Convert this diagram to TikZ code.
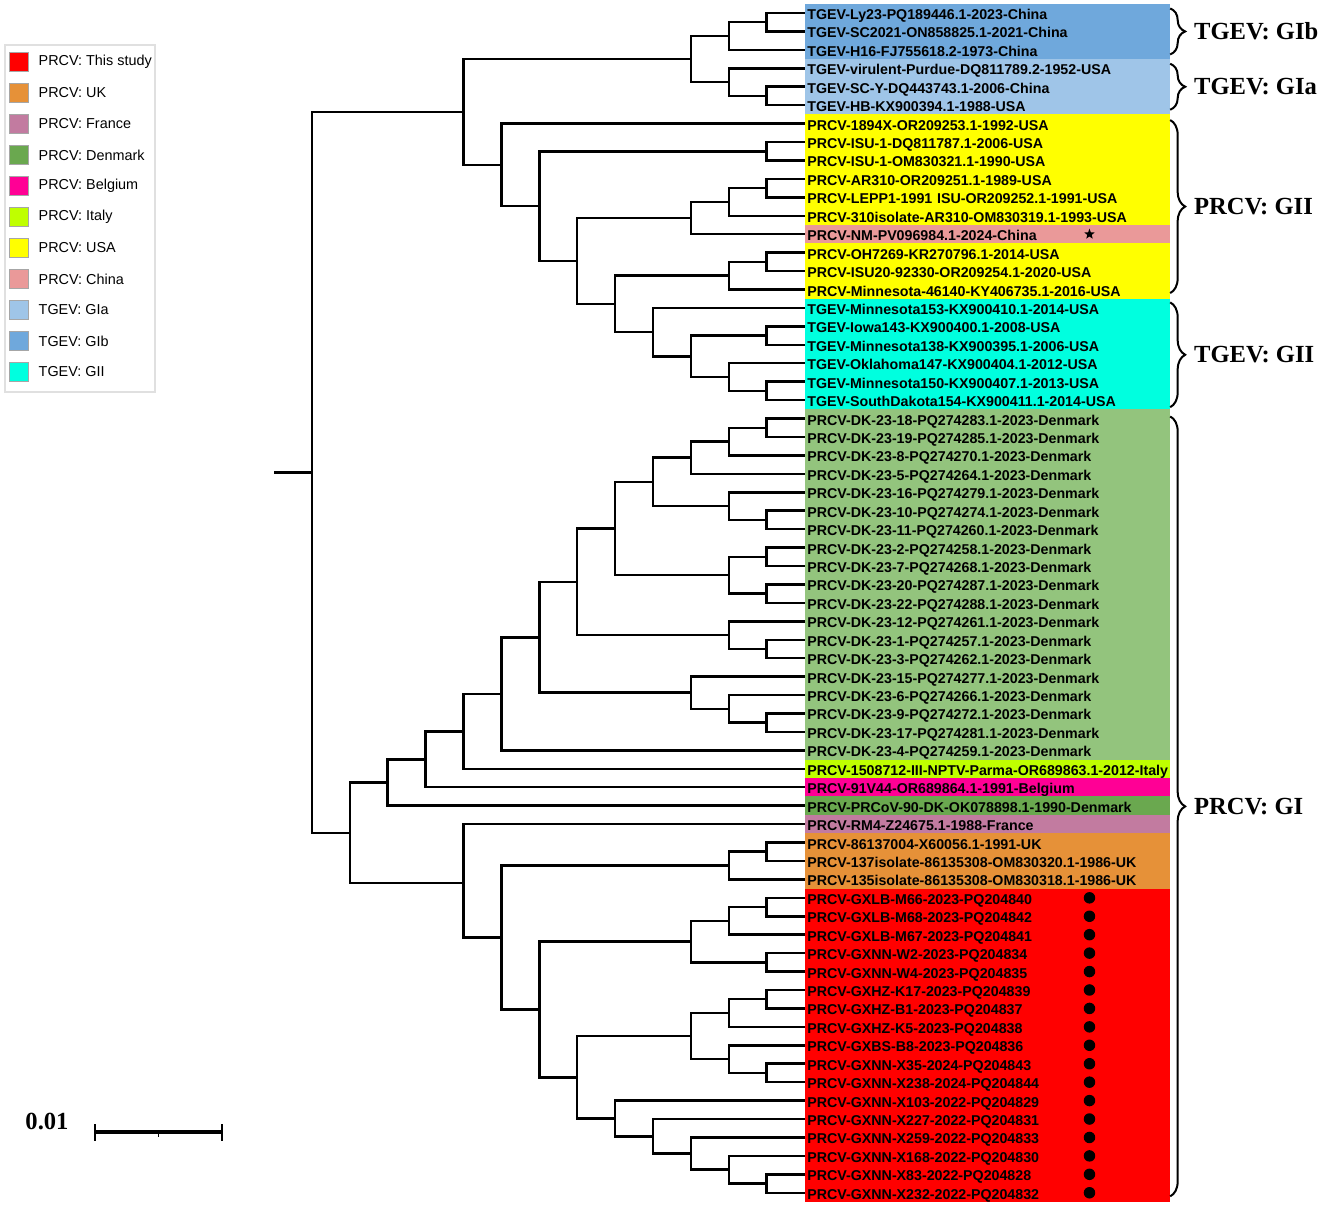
\documentclass[tikz,border=0pt]{standalone}
\usepackage{fontspec}
\usepackage{xcolor}
\usetikzlibrary{positioning}
\usetikzlibrary{shapes.geometric}
\usetikzlibrary{decorations.pathreplacing}
\newfontfamily\lsans{Liberation Sans}
\newfontfamily\lserif{Liberation Serif}

\definecolor{gib}{HTML}{6FA8DC}
\definecolor{gia}{HTML}{9FC5E8}
\definecolor{usa}{HTML}{FFFF00}
\definecolor{china}{HTML}{EA9999}
\definecolor{tgii}{HTML}{00FFDF}
\definecolor{dk}{HTML}{93C47D}
\definecolor{italy}{HTML}{BFFF00}
\definecolor{belgium}{HTML}{FF0095}
\definecolor{dkold}{HTML}{6AA84F}
\definecolor{france}{HTML}{C27BA0}
\definecolor{uk}{HTML}{E69138}
\definecolor{study}{HTML}{FF0000}

\tikzset{
  branch/.style={line width=0.05cm},
  leaf/.style={anchor=west, fill=#1, inner xsep=0.05cm, inner ysep=0pt,
    text width=7.2cm, align=left, minimum height=0.36875cm,
    text height=0.86em, text depth=0.12em,
    execute at begin node={\exhyphenpenalty=10000\hyphenpenalty=10000},
    font=\lsans\bfseries\fontsize{8.1}{9}\selectfont},
  swatch/.style={fill=#1, draw=black!35, line width=0.4pt, minimum size=0.38cm, inner sep=0pt},
  keytext/.style={inner sep=0pt, font=\lsans\fontsize{8.2}{10}\selectfont},
  grpbrace/.style={decorate, decoration={brace, amplitude=0.3cm, aspect=0.5}, line width=0.04cm},
  grplabel/.style={right=0.46cm, inner sep=0pt, font=\lserif\bfseries\fontsize{14}{16}\selectfont},
  dot/.style={circle, fill=black, inner sep=0pt, minimum size=0.23cm},
}

\begin{document}
\begin{tikzpicture}[x=0.02cm, y=-0.02cm]
\useasboundingbox (0,0) rectangle (1325,1208);

% legend
\draw[black!12, line width=0.03cm] (5,45) rectangle (155,392);
\node[swatch=study] (k1) at (18.5,62) {};
\node[keytext, right=0.2cm of k1] (t1) {PRCV: This study};
\node[swatch=uk] (k2) at (18.5,93) {};
\node[keytext, right=0.2cm of k2] (t2) {PRCV: UK};
\node[swatch=france] (k3) at (18.5,124) {};
\node[keytext, right=0.2cm of k3] (t3) {PRCV: France};
\node[swatch=dkold] (k4) at (18.5,155) {};
\node[keytext, right=0.2cm of k4] (t4) {PRCV: Denmark};
\node[swatch=belgium] (k5) at (18.5,186) {};
\node[keytext, right=0.2cm of k5] (t5) {PRCV: Belgium};
\node[swatch=italy] (k6) at (18.5,217) {};
\node[keytext, right=0.2cm of k6] (t6) {PRCV: Italy};
\node[swatch=usa] (k7) at (18.5,248) {};
\node[keytext, right=0.2cm of k7] (t7) {PRCV: USA};
\node[swatch=china] (k8) at (18.5,279) {};
\node[keytext, right=0.2cm of k8] (t8) {PRCV: China};
\node[swatch=gia] (k9) at (18.5,310) {};
\node[keytext, right=0.2cm of k9] (t9) {TGEV: GIa};
\node[swatch=gib] (k10) at (18.5,341) {};
\node[keytext, right=0.2cm of k10] (t10) {TGEV: GIb};
\node[swatch=tgii] (k11) at (18.5,372) {};
\node[keytext, right=0.2cm of k11] (t11) {TGEV: GII};

% scale bar
\node[inner sep=0pt, font=\lserif\bfseries\fontsize{14}{16}\selectfont] (sblabel) at (47,1121) {0.01};
\draw[line width=0.08cm] (95,1132) -- (222,1132);
\draw[line width=0.03cm] (95,1124) -- (95,1141);
\draw[line width=0.03cm] (222,1124) -- (222,1141);
\draw[line width=0.03cm] (158.5,1132) -- (158.5,1137);

\begin{scope}[shift={(6.24cm,-0.26cm)}, x=0.758cm, y=-0.36875cm]
% tips
\node[leaf=gib] (l0) at (13,0) {TGEV-Ly23-PQ189446.1-2023-China};
\node[leaf=gib] (l1) at (13,1) {TGEV-SC2021-ON858825.1-2021-China};
\node[leaf=gib] (l2) at (13,2) {TGEV-H16-FJ755618.2-1973-China};
\node[leaf=gia] (l3) at (13,3) {TGEV-virulent-Purdue-DQ811789.2-1952-USA};
\node[leaf=gia] (l4) at (13,4) {TGEV-SC-Y-DQ443743.1-2006-China};
\node[leaf=gia] (l5) at (13,5) {TGEV-HB-KX900394.1-1988-USA};
\node[leaf=usa] (l6) at (13,6) {PRCV-1894X-OR209253.1-1992-USA};
\node[leaf=usa] (l7) at (13,7) {PRCV-ISU-1-DQ811787.1-2006-USA};
\node[leaf=usa] (l8) at (13,8) {PRCV-ISU-1-OM830321.1-1990-USA};
\node[leaf=usa] (l9) at (13,9) {PRCV-AR310-OR209251.1-1989-USA};
\node[leaf=usa] (l10) at (13,10) {PRCV-LEPP1-1991 ISU-OR209252.1-1991-USA};
\node[leaf=usa] (l11) at (13,11) {PRCV-310isolate-AR310-OM830319.1-1993-USA};
\node[leaf=china] (l12) at (13,12) {PRCV-NM-PV096984.1-2024-China};
\node[leaf=usa] (l13) at (13,13) {PRCV-OH7269-KR270796.1-2014-USA};
\node[leaf=usa] (l14) at (13,14) {PRCV-ISU20-92330-OR209254.1-2020-USA};
\node[leaf=usa] (l15) at (13,15) {PRCV-Minnesota-46140-KY406735.1-2016-USA};
\node[leaf=tgii] (l16) at (13,16) {TGEV-Minnesota153-KX900410.1-2014-USA};
\node[leaf=tgii] (l17) at (13,17) {TGEV-Iowa143-KX900400.1-2008-USA};
\node[leaf=tgii] (l18) at (13,18) {TGEV-Minnesota138-KX900395.1-2006-USA};
\node[leaf=tgii] (l19) at (13,19) {TGEV-Oklahoma147-KX900404.1-2012-USA};
\node[leaf=tgii] (l20) at (13,20) {TGEV-Minnesota150-KX900407.1-2013-USA};
\node[leaf=tgii] (l21) at (13,21) {TGEV-SouthDakota154-KX900411.1-2014-USA};
\node[leaf=dk] (l22) at (13,22) {PRCV-DK-23-18-PQ274283.1-2023-Denmark};
\node[leaf=dk] (l23) at (13,23) {PRCV-DK-23-19-PQ274285.1-2023-Denmark};
\node[leaf=dk] (l24) at (13,24) {PRCV-DK-23-8-PQ274270.1-2023-Denmark};
\node[leaf=dk] (l25) at (13,25) {PRCV-DK-23-5-PQ274264.1-2023-Denmark};
\node[leaf=dk] (l26) at (13,26) {PRCV-DK-23-16-PQ274279.1-2023-Denmark};
\node[leaf=dk] (l27) at (13,27) {PRCV-DK-23-10-PQ274274.1-2023-Denmark};
\node[leaf=dk] (l28) at (13,28) {PRCV-DK-23-11-PQ274260.1-2023-Denmark};
\node[leaf=dk] (l29) at (13,29) {PRCV-DK-23-2-PQ274258.1-2023-Denmark};
\node[leaf=dk] (l30) at (13,30) {PRCV-DK-23-7-PQ274268.1-2023-Denmark};
\node[leaf=dk] (l31) at (13,31) {PRCV-DK-23-20-PQ274287.1-2023-Denmark};
\node[leaf=dk] (l32) at (13,32) {PRCV-DK-23-22-PQ274288.1-2023-Denmark};
\node[leaf=dk] (l33) at (13,33) {PRCV-DK-23-12-PQ274261.1-2023-Denmark};
\node[leaf=dk] (l34) at (13,34) {PRCV-DK-23-1-PQ274257.1-2023-Denmark};
\node[leaf=dk] (l35) at (13,35) {PRCV-DK-23-3-PQ274262.1-2023-Denmark};
\node[leaf=dk] (l36) at (13,36) {PRCV-DK-23-15-PQ274277.1-2023-Denmark};
\node[leaf=dk] (l37) at (13,37) {PRCV-DK-23-6-PQ274266.1-2023-Denmark};
\node[leaf=dk] (l38) at (13,38) {PRCV-DK-23-9-PQ274272.1-2023-Denmark};
\node[leaf=dk] (l39) at (13,39) {PRCV-DK-23-17-PQ274281.1-2023-Denmark};
\node[leaf=dk] (l40) at (13,40) {PRCV-DK-23-4-PQ274259.1-2023-Denmark};
\node[leaf=italy] (l41) at (13,41) {PRCV-1508712-III-NPTV-Parma-OR689863.1-2012-Italy};
\node[leaf=belgium] (l42) at (13,42) {PRCV-91V44-OR689864.1-1991-Belgium};
\node[leaf=dkold] (l43) at (13,43) {PRCV-PRCoV-90-DK-OK078898.1-1990-Denmark};
\node[leaf=france] (l44) at (13,44) {PRCV-RM4-Z24675.1-1988-France};
\node[leaf=uk] (l45) at (13,45) {PRCV-86137004-X60056.1-1991-UK};
\node[leaf=uk] (l46) at (13,46) {PRCV-137isolate-86135308-OM830320.1-1986-UK};
\node[leaf=uk] (l47) at (13,47) {PRCV-135isolate-86135308-OM830318.1-1986-UK};
\node[leaf=study] (l48) at (13,48) {PRCV-GXLB-M66-2023-PQ204840};
\node[leaf=study] (l49) at (13,49) {PRCV-GXLB-M68-2023-PQ204842};
\node[leaf=study] (l50) at (13,50) {PRCV-GXLB-M67-2023-PQ204841};
\node[leaf=study] (l51) at (13,51) {PRCV-GXNN-W2-2023-PQ204834};
\node[leaf=study] (l52) at (13,52) {PRCV-GXNN-W4-2023-PQ204835};
\node[leaf=study] (l53) at (13,53) {PRCV-GXHZ-K17-2023-PQ204839};
\node[leaf=study] (l54) at (13,54) {PRCV-GXHZ-B1-2023-PQ204837};
\node[leaf=study] (l55) at (13,55) {PRCV-GXHZ-K5-2023-PQ204838};
\node[leaf=study] (l56) at (13,56) {PRCV-GXBS-B8-2023-PQ204836};
\node[leaf=study] (l57) at (13,57) {PRCV-GXNN-X35-2024-PQ204843};
\node[leaf=study] (l58) at (13,58) {PRCV-GXNN-X238-2024-PQ204844};
\node[leaf=study] (l59) at (13,59) {PRCV-GXNN-X103-2022-PQ204829};
\node[leaf=study] (l60) at (13,60) {PRCV-GXNN-X227-2022-PQ204831};
\node[leaf=study] (l61) at (13,61) {PRCV-GXNN-X259-2022-PQ204833};
\node[leaf=study] (l62) at (13,62) {PRCV-GXNN-X168-2022-PQ204830};
\node[leaf=study] (l63) at (13,63) {PRCV-GXNN-X83-2022-PQ204828};
\node[leaf=study] (l64) at (13,64) {PRCV-GXNN-X232-2022-PQ204832};

% markers
\node[star, star points=5, star point ratio=2.4, fill=black, inner sep=0pt, minimum size=0.22cm] (s12) at ([xshift=5.7cm]l12.west) {};
\node[dot] (d48) at ([xshift=5.7cm]l48.west) {};
\node[dot] (d49) at ([xshift=5.7cm]l49.west) {};
\node[dot] (d50) at ([xshift=5.7cm]l50.west) {};
\node[dot] (d51) at ([xshift=5.7cm]l51.west) {};
\node[dot] (d52) at ([xshift=5.7cm]l52.west) {};
\node[dot] (d53) at ([xshift=5.7cm]l53.west) {};
\node[dot] (d54) at ([xshift=5.7cm]l54.west) {};
\node[dot] (d55) at ([xshift=5.7cm]l55.west) {};
\node[dot] (d56) at ([xshift=5.7cm]l56.west) {};
\node[dot] (d57) at ([xshift=5.7cm]l57.west) {};
\node[dot] (d58) at ([xshift=5.7cm]l58.west) {};
\node[dot] (d59) at ([xshift=5.7cm]l59.west) {};
\node[dot] (d60) at ([xshift=5.7cm]l60.west) {};
\node[dot] (d61) at ([xshift=5.7cm]l61.west) {};
\node[dot] (d62) at ([xshift=5.7cm]l62.west) {};
\node[dot] (d63) at ([xshift=5.7cm]l63.west) {};
\node[dot] (d64) at ([xshift=5.7cm]l64.west) {};

% TGEV GI
\coordinate (na) at (12,0.5); \draw[branch] (na) |- (l0.west) (na) |- (l1.west);
\coordinate (nb) at (11,1.25); \draw[branch] (nb) |- (na) (nb) |- (l2.west);
\coordinate (nc) at (12,4.5); \draw[branch] (nc) |- (l4.west) (nc) |- (l5.west);
\coordinate (nd) at (11,3.75); \draw[branch] (nd) |- (l3.west) (nd) |- (nc);
\coordinate (ne) at (10,2.5); \draw[branch] (ne) |- (nb) (ne) |- (nd);

% PRCV GII and TGEV GII
\coordinate (nf) at (12,7.5); \draw[branch] (nf) |- (l7.west) (nf) |- (l8.west);
\coordinate (ng) at (12,9.5); \draw[branch] (ng) |- (l9.west) (ng) |- (l10.west);
\coordinate (nh) at (11,10.25); \draw[branch] (nh) |- (ng) (nh) |- (l11.west);
\coordinate (ni) at (10,11.125); \draw[branch] (ni) |- (nh) (ni) |- (l12.west);
\coordinate (nj) at (12,13.5); \draw[branch] (nj) |- (l13.west) (nj) |- (l14.west);
\coordinate (nk) at (11,14.25); \draw[branch] (nk) |- (nj) (nk) |- (l15.west);
\coordinate (nl) at (12,17.5); \draw[branch] (nl) |- (l17.west) (nl) |- (l18.west);
\coordinate (nm) at (12,20.5); \draw[branch] (nm) |- (l20.west) (nm) |- (l21.west);
\coordinate (nn) at (11,19.75); \draw[branch] (nn) |- (l19.west) (nn) |- (nm);
\coordinate (no) at (10,18.625); \draw[branch] (no) |- (nl) (no) |- (nn);
\coordinate (np) at (9,17.3125); \draw[branch] (np) |- (l16.west) (np) |- (no);
\coordinate (nq) at (8,15.78125); \draw[branch] (nq) |- (nk) (nq) |- (np);
\coordinate (nr) at (7,13.453125); \draw[branch] (nr) |- (ni) (nr) |- (nq);
\coordinate (ns) at (6,10.4765625); \draw[branch] (ns) |- (nf) (ns) |- (nr);
\coordinate (nt) at (5,8.23828125); \draw[branch] (nt) |- (l6.west) (nt) |- (ns);
\coordinate (nu) at (4,5.369140625); \draw[branch] (nu) |- (ne) (nu) |- (nt);

% PRCV GI, Denmark
\coordinate (da) at (12,22.5); \draw[branch] (da) |- (l22.west) (da) |- (l23.west);
\coordinate (db) at (11,23.25); \draw[branch] (db) |- (da) (db) |- (l24.west);
\coordinate (dc) at (10,24.125); \draw[branch] (dc) |- (db) (dc) |- (l25.west);
\coordinate (dd) at (12,27.5); \draw[branch] (dd) |- (l27.west) (dd) |- (l28.west);
\coordinate (de) at (11,26.75); \draw[branch] (de) |- (l26.west) (de) |- (dd);
\coordinate (df) at (9,25.4375); \draw[branch] (df) |- (dc) (df) |- (de);
\coordinate (dg) at (12,29.5); \draw[branch] (dg) |- (l29.west) (dg) |- (l30.west);
\coordinate (dh) at (12,31.5); \draw[branch] (dh) |- (l31.west) (dh) |- (l32.west);
\coordinate (di) at (11,30.5); \draw[branch] (di) |- (dg) (di) |- (dh);
\coordinate (dj) at (8,27.96875); \draw[branch] (dj) |- (df) (dj) |- (di);
\coordinate (dk) at (12,34.5); \draw[branch] (dk) |- (l34.west) (dk) |- (l35.west);
\coordinate (dl) at (11,33.75); \draw[branch] (dl) |- (l33.west) (dl) |- (dk);
\coordinate (dm) at (7,30.859375); \draw[branch] (dm) |- (dj) (dm) |- (dl);
\coordinate (dn) at (12,38.5); \draw[branch] (dn) |- (l38.west) (dn) |- (l39.west);
\coordinate (do) at (11,37.75); \draw[branch] (do) |- (l37.west) (do) |- (dn);
\coordinate (dp) at (10,36.875); \draw[branch] (dp) |- (l36.west) (dp) |- (do);
\coordinate (dq) at (6,33.8671875); \draw[branch] (dq) |- (dm) (dq) |- (dp);
\coordinate (dr) at (5,36.93359375); \draw[branch] (dr) |- (dq) (dr) |- (l40.west);
\coordinate (ds) at (4,38.966796875); \draw[branch] (ds) |- (dr) (ds) |- (l41.west);
\coordinate (dt) at (3,40.4833984); \draw[branch] (dt) |- (ds) (dt) |- (l42.west);
\coordinate (du) at (2,41.7416992); \draw[branch] (du) |- (dt) (du) |- (l43.west);

% PRCV GI, France, UK and this study
\coordinate (ua) at (12,45.5); \draw[branch] (ua) |- (l45.west) (ua) |- (l46.west);
\coordinate (ub) at (11,46.25); \draw[branch] (ub) |- (ua) (ub) |- (l47.west);
\coordinate (ra) at (12,48.5); \draw[branch] (ra) |- (l48.west) (ra) |- (l49.west);
\coordinate (rb) at (11,49.25); \draw[branch] (rb) |- (ra) (rb) |- (l50.west);
\coordinate (rc) at (12,51.5); \draw[branch] (rc) |- (l51.west) (rc) |- (l52.west);
\coordinate (rd) at (10,50.375); \draw[branch] (rd) |- (rb) (rd) |- (rc);
\coordinate (re) at (12,53.5); \draw[branch] (re) |- (l53.west) (re) |- (l54.west);
\coordinate (rf) at (11,54.25); \draw[branch] (rf) |- (re) (rf) |- (l55.west);
\coordinate (rg) at (12,57.5); \draw[branch] (rg) |- (l57.west) (rg) |- (l58.west);
\coordinate (rh) at (11,56.75); \draw[branch] (rh) |- (l56.west) (rh) |- (rg);
\coordinate (ri) at (10,55.5); \draw[branch] (ri) |- (rf) (ri) |- (rh);
\coordinate (rj) at (12,63.5); \draw[branch] (rj) |- (l63.west) (rj) |- (l64.west);
\coordinate (rk) at (11,62.75); \draw[branch] (rk) |- (l62.west) (rk) |- (rj);
\coordinate (rl) at (10,61.875); \draw[branch] (rl) |- (l61.west) (rl) |- (rk);
\coordinate (rm) at (9,60.9375); \draw[branch] (rm) |- (l60.west) (rm) |- (rl);
\coordinate (rn) at (8,59.96875); \draw[branch] (rn) |- (l59.west) (rn) |- (rm);
\coordinate (ro) at (7,57.734375); \draw[branch] (ro) |- (ri) (ro) |- (rn);
\coordinate (rp) at (6,54.0546875); \draw[branch] (rp) |- (rd) (rp) |- (ro);
\coordinate (rq) at (5,50.15234375); \draw[branch] (rq) |- (ub) (rq) |- (rp);
\coordinate (rr) at (4,47.201171875); \draw[branch] (rr) |- (l44.west) (rr) |- (rq);
\coordinate (rs) at (1,44.4714355); \draw[branch] (rs) |- (du) (rs) |- (rr);

% root
\coordinate (root) at (0,24.920288);
\coordinate (stub) at (-1,24.920288);
\draw[branch] (stub) -- (root) (root) |- (nu) (root) |- (rs);

% group braces
\draw[grpbrace] ([yshift=-0.1cm]l0.north east) -- node[grplabel] {TGEV: GIb} ([yshift=0.1cm]l2.south east);
\draw[grpbrace] ([yshift=-0.1cm]l3.north east) -- node[grplabel] {TGEV: GIa} ([yshift=0.1cm]l5.south east);
\draw[grpbrace] ([yshift=-0.12cm]l6.north east) -- node[grplabel] {PRCV: GII} ([yshift=0.12cm]l15.south east);
\draw[grpbrace] ([yshift=-0.08cm]l16.north east) -- node[grplabel] {TGEV: GII} ([yshift=0.05cm]l21.south east);
\draw[grpbrace] ([yshift=-0.15cm]l22.north east) -- node[grplabel] {PRCV: GI} ([yshift=0.12cm]l64.south east);
\end{scope}
\end{tikzpicture}
\end{document}
